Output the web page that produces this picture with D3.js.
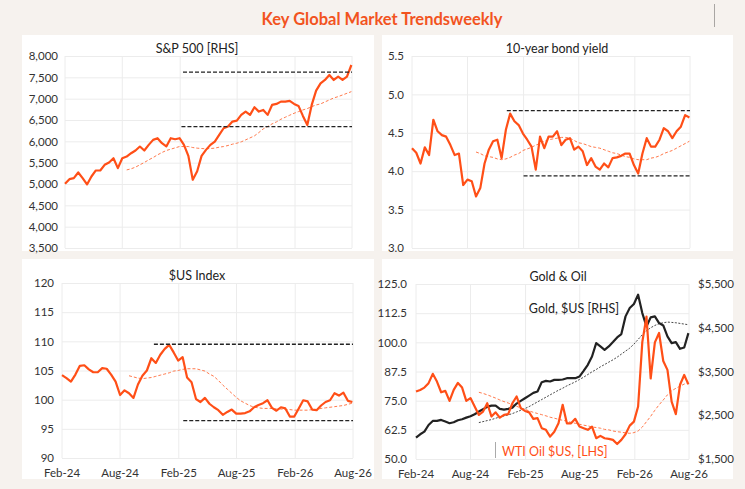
<!DOCTYPE html>
<html>
<head>
<meta charset="utf-8">
<script src="https://cdn.jsdelivr.net/npm/d3@7"></script>
<style>
  body { margin: 0; background: #f6f2ee; }
  text { font-family: Lato, "DejaVu Sans", sans-serif; }
</style>
</head>
<body>
<svg id="chart" width="745" height="489"></svg>
<script>
// biweekly observations, Feb-24 .. Aug-26
const dates = d3.range(66).map(i => d3.timeDay.offset(new Date(2024, 1, 1), 14 * i));

const tickDates = [new Date(2024, 1, 1), new Date(2024, 7, 1), new Date(2025, 1, 1),
                   new Date(2025, 7, 1), new Date(2026, 1, 1), new Date(2026, 7, 1)];
const tickLabels = ["Feb-24", "Aug-24", "Feb-25", "Aug-25", "Feb-26", "Aug-26"];

const spx = [5005, 5114, 5137, 5270, 5137, 4990, 5176, 5317, 5317, 5449, 5504, 5605, 5371, 5605, 5644, 5722,
  5785, 5878, 5785, 5917, 6034, 6073, 5956, 5880, 6073, 6050, 6073, 5917, 5660, 5100, 5300, 5660,
  5800, 5917, 5995, 6151, 6307, 6346, 6463, 6487, 6620, 6697, 6620, 6799, 6697, 6736, 6620, 6853,
  6877, 6931, 6931, 6947, 6877, 6830, 6596, 6385, 6853, 7189, 7360, 7438, 7555, 7438, 7516, 7438,
  7516, 7789];
const spxMa = [null, null, null, null, null, null, null, null, null, null, null, null, null, null, 5330, 5356,
  5395, 5450, 5504, 5566, 5620, 5683, 5738, 5785, 5816, 5847, 5878, 5878, 5878, 5855, 5840, 5832,
  5824, 5832, 5840, 5863, 5878, 5902, 5933, 5956, 5988, 6034, 6081, 6128, 6206, 6292, 6346, 6409,
  6456, 6518, 6565, 6612, 6658, 6697, 6736, 6768, 6814, 6853, 6877, 6924, 6970, 7017, 7048, 7087,
  7126, 7165];
const spxLevels = [7620, 6345];
const spxLevelStarts = [new Date(2025, 1, 10), new Date(2025, 1, 5)];

const bond = [4.30, 4.24, 4.10, 4.31, 4.21, 4.67, 4.52, 4.47, 4.45, 4.34, 4.21, 4.23, 3.82, 3.89, 3.87, 3.67,
  3.78, 4.10, 4.28, 4.39, 4.41, 4.17, 4.54, 4.75, 4.65, 4.60, 4.49, 4.41, 4.32, 4.02, 4.45, 4.30,
  4.45, 4.45, 4.52, 4.34, 4.41, 4.43, 4.28, 4.32, 4.26, 4.08, 4.17, 4.06, 4.02, 4.10, 4.05, 4.17,
  4.18, 4.20, 4.23, 4.23, 4.08, 3.97, 4.23, 4.43, 4.32, 4.32, 4.41, 4.56, 4.52, 4.43, 4.52, 4.58,
  4.73, 4.70];
const bondMa = [null, null, null, null, null, null, null, null, null, null, null, null, null, null, null, 4.25,
  4.23, 4.20, 4.19, 4.18, 4.16, 4.15, 4.16, 4.18, 4.21, 4.23, 4.27, 4.29, 4.31, 4.34, 4.36, 4.39,
  4.41, 4.42, 4.43, 4.44, 4.44, 4.43, 4.40, 4.37, 4.36, 4.34, 4.32, 4.31, 4.30, 4.28, 4.26, 4.24,
  4.23, 4.21, 4.19, 4.18, 4.16, 4.15, 4.15, 4.15, 4.17, 4.18, 4.20, 4.23, 4.25, 4.27, 4.30, 4.33,
  4.36, 4.39];
const bondLevels = [4.79, 3.94];
const bondLevelStarts = [new Date(2024, 11, 8), new Date(2025, 1, 1)];

const usd = [104.2, 103.7, 103.1, 104.3, 105.8, 105.9, 105.2, 104.7, 104.7, 105.4, 105.3, 104.3, 103.1, 100.8, 101.6, 101.1,
  100.3, 102.6, 104.1, 105.0, 107.1, 106.3, 107.7, 108.7, 109.4, 108.1, 106.7, 107.3, 103.8, 103.0, 100.1, 99.6,
  100.3, 99.3, 98.7, 98.2, 97.4, 97.9, 98.3, 97.6, 97.6, 97.7, 98.0, 98.7, 99.1, 99.4, 99.9, 98.6,
  98.1, 98.7, 98.5, 97.1, 97.1, 98.5, 99.9, 99.7, 98.3, 98.2, 99.0, 99.6, 99.9, 101.1, 100.7, 101.2,
  99.8, 99.6];
const usdMa = [null, null, null, null, null, null, null, null, null, null, null, null, null, null, null, 104.1,
  103.9, 103.7, 103.6, 103.7, 103.8, 104.0, 104.2, 104.4, 104.6, 104.9, 105.0, 105.2, 105.3, 105.3, 105.3, 105.1,
  104.9, 104.4, 104.0, 103.3, 102.5, 101.8, 101.1, 100.4, 99.8, 99.4, 99.0, 98.7, 98.6, 98.5, 98.5, 98.5,
  98.4, 98.4, 98.3, 98.3, 98.2, 98.2, 98.2, 98.2, 98.3, 98.3, 98.5, 98.6, 98.7, 98.8, 98.9, 99.0,
  99.2, 99.4];
const usdLevels = [109.5, 96.4];
const usdLevelStarts = [new Date(2024, 10, 15), new Date(2025, 1, 15)];

const oil = [78.9, 79.6, 80.6, 82.5, 86.5, 83.2, 78.6, 79.2, 74.9, 79.6, 82.6, 80.6, 74.9, 76.1, 72.5, 68.9,
  70.3, 73.9, 68.2, 70.0, 67.7, 68.9, 69.2, 73.9, 76.8, 71.8, 70.6, 70.0, 67.2, 67.5, 63.2, 62.5,
  59.6, 61.7, 65.3, 73.2, 65.3, 65.3, 67.2, 63.9, 63.2, 62.5, 63.9, 58.9, 59.9, 58.9, 58.6, 58.2,
  56.4, 58.2, 60.6, 64.3, 66.0, 72.5, 100.1, 111.0, 84.5, 100.0, 104.0, 92.0, 88.2, 74.6, 69.2, 81.8,
  86.0, 82.0];
const oilMa = [null, null, null, null, null, null, null, null, null, null, null, null, null, null, null, 78.6,
  78.1, 77.5, 76.8, 76.1, 75.3, 74.6, 74.0, 73.3, 72.6, 71.9, 71.3, 70.6, 70.0, 69.5, 69.0, 68.5,
  67.9, 67.5, 67.0, 66.6, 66.2, 65.7, 65.3, 64.9, 64.5, 64.2, 63.7, 63.5, 63.2, 62.7, 62.5, 62.0,
  61.7, 61.5, 61.2, 61.0, 61.3, 62.0, 63.7, 66.0, 68.3, 70.9, 73.2, 75.3, 77.5, 79.2, 80.3, 81.2,
  82.1, 82.9];

const gold = [1988, 2065, 2126, 2278, 2370, 2370, 2393, 2355, 2317, 2340, 2385, 2408, 2446, 2477, 2523, 2584,
  2637, 2691, 2721, 2721, 2645, 2630, 2645, 2675, 2767, 2828, 2889, 2950, 3011, 3042, 3256, 3286,
  3271, 3309, 3309, 3317, 3347, 3347, 3347, 3385, 3515, 3653, 3843, 4149, 4072, 3996, 4072, 4172,
  4279, 4355, 4760, 4950, 5042, 5256, 4836, 4530, 4737, 4760, 4607, 4553, 4301, 4149, 4172, 4019,
  4050, 4378];
const goldMa = [null, null, null, null, null, null, null, null, null, null, null, null, null, null, null, 2332,
  2355, 2378, 2401, 2431, 2462, 2485, 2508, 2538, 2576, 2614, 2653, 2698, 2752, 2805, 2859, 2912,
  2966, 3019, 3072, 3118, 3172, 3217, 3263, 3317, 3370, 3431, 3492, 3546, 3607, 3660, 3714, 3767,
  3828, 3897, 3966, 4034, 4126, 4233, 4340, 4431, 4500, 4553, 4592, 4614, 4630, 4622, 4614, 4599,
  4584, 4569];

const ORANGE = "#ff4f17";
const svg = d3.select("#chart");

svg.append("rect").attr("width", 745).attr("height", 489).attr("fill", "#f6f2ee");

svg.append("text")
  .attr("x", 382).attr("y", 25)
  .attr("text-anchor", "middle")
  .attr("font-size", 16.5).attr("font-weight", 700)
  .attr("fill", "#f2541f")
  .text("Key Global Market Trendsweekly");

svg.append("line")
  .attr("x1", 714.5).attr("x2", 714.5).attr("y1", 4).attr("y2", 27)
  .attr("stroke", "#a9a6a3").attr("stroke-width", 1);

const xEnd = new Date(2026, 7, 1);

function drawPanel(p) {
  const g = svg.append("g");
  g.append("rect")
    .attr("x", p.box[0]).attr("y", p.box[1])
    .attr("width", p.box[2] - p.box[0]).attr("height", p.box[3] - p.box[1])
    .attr("fill", "#fff");

  const x = d3.scaleTime().domain([tickDates[0], xEnd]).range([p.l, p.r]);
  const y = d3.scaleLinear().domain(p.yDomain).range([p.b, p.t]);

  // horizontal grid + left labels
  const yAxis = g.append("g")
    .attr("transform", `translate(${p.l},0)`)
    .call(d3.axisLeft(y).tickValues(p.yTicks).tickFormat(d3.format(p.yFormat))
      .tickSize(-(p.r - p.l)).tickPadding(p.l - p.labelRight));
  yAxis.select(".domain").remove();
  yAxis.selectAll("line").attr("stroke", "#ececec");
  yAxis.selectAll("text").attr("font-size", 11.5).attr("fill", "#333")
    .style("font-family", "Lato, sans-serif");

  // vertical grid
  g.append("g").selectAll("line")
    .data(tickDates)
    .join("line")
    .attr("x1", d => x(d)).attr("x2", d => x(d))
    .attr("y1", p.t).attr("y2", p.b)
    .attr("stroke", "#ececec");

  if (p.xLabels) {
    g.append("g").selectAll("text")
      .data(tickDates)
      .join("text")
      .attr("x", d => x(d)).attr("y", p.b + 19)
      .attr("text-anchor", "middle")
      .attr("font-size", 11.5).attr("fill", "#333")
      .text((d, i) => tickLabels[i]);
  }

  g.append("text")
    .attr("x", p.titleX).attr("y", p.t - 3)
    .attr("text-anchor", "middle")
    .attr("font-size", 12.5).attr("fill", "#222")
    .text(p.title);

  return {g, x, y};
}

function addLine(g, x, y, values, stroke, width, dash) {
  const line = d3.line()
    .defined(d => d[1] != null)
    .x(d => x(d[0]))
    .y(d => y(d[1]));
  g.append("path")
    .datum(dates.map((d, i) => [d, values[i]]))
    .attr("fill", "none")
    .attr("stroke", stroke)
    .attr("stroke-width", width)
    .attr("stroke-linejoin", "round")
    .attr("stroke-dasharray", dash || null)
    .attr("d", line);
}

function addLevels(g, x, y, levels, starts) {
  g.append("g").selectAll("line")
    .data(levels)
    .join("line")
    .attr("x1", (d, i) => x(starts[i])).attr("x2", x(xEnd))
    .attr("y1", d => y(d)).attr("y2", d => y(d))
    .attr("stroke", "#222").attr("stroke-width", 1.3)
    .attr("stroke-dasharray", "4,2");
}

// S&P 500
{
  const {g, x, y} = drawPanel({
    title: "S&P 500 [RHS]", titleX: 197, box: [22, 35, 374, 251],
    l: 65, r: 352, t: 56, b: 248, labelRight: 58,
    yDomain: [3500, 8000], yTicks: d3.range(3500, 8001, 500), yFormat: ",", xLabels: false
  });
  addLine(g, x, y, spxMa, "#ff7a4d", 1, "3,2");
  addLine(g, x, y, spx, ORANGE, 2.2);
  addLevels(g, x, y, spxLevels, spxLevelStarts);
}

// 10-year bond yield
{
  const {g, x, y} = drawPanel({
    title: "10-year bond yield", titleX: 557, box: [382, 35, 733, 251],
    l: 412, r: 690, t: 56, b: 248, labelRight: 404,
    yDomain: [3, 5.5], yTicks: d3.range(0, 6).map(i => 3 + i * 0.5), yFormat: ".1f", xLabels: false
  });
  addLine(g, x, y, bondMa, "#ff7a4d", 1, "3,2");
  addLine(g, x, y, bond, ORANGE, 2.2);
  addLevels(g, x, y, bondLevels, bondLevelStarts);
}

// $US Index
{
  const {g, x, y} = drawPanel({
    title: "$US Index", titleX: 197, box: [22, 259, 374, 479],
    l: 62, r: 353, t: 283, b: 458, labelRight: 54,
    yDomain: [90, 120], yTicks: d3.range(90, 121, 5), yFormat: "d", xLabels: true
  });
  addLine(g, x, y, usdMa, "#ff7a4d", 1, "3,2");
  addLine(g, x, y, usd, ORANGE, 2.2);
  addLevels(g, x, y, usdLevels, usdLevelStarts);
}

// Gold & Oil
{
  const {g, x, y} = drawPanel({
    title: "Gold & Oil", titleX: 558, box: [382, 259, 733, 479],
    l: 416, r: 689, t: 284, b: 459, labelRight: 407,
    yDomain: [50, 125], yTicks: d3.range(0, 7).map(i => 50 + i * 12.5), yFormat: ".1f", xLabels: true
  });
  const yR = d3.scaleLinear().domain([1500, 5500]).range([459, 284]);
  const rAxis = g.append("g")
    .attr("transform", "translate(689,0)")
    .call(d3.axisRight(yR).tickValues(d3.range(1500, 5501, 1000))
      .tickFormat(d => "$" + d3.format(",")(d)).tickSize(0).tickPadding(9));
  rAxis.select(".domain").remove();
  rAxis.selectAll("text").attr("font-size", 11.5).attr("fill", "#333")
    .style("font-family", "Lato, sans-serif");

  addLine(g, x, yR, goldMa, "#333", 0.9, "2,1.5");
  addLine(g, x, y, oilMa, "#ff7a4d", 1, "3,2");
  addLine(g, x, yR, gold, "#222", 2.2);
  addLine(g, x, y, oil, ORANGE, 2.2);

  g.append("text")
    .attr("x", 574).attr("y", 313)
    .attr("text-anchor", "middle")
    .attr("font-size", 12.5).attr("fill", "#222")
    .text("Gold, $US [RHS]");
  g.append("line")
    .attr("x1", 495.5).attr("x2", 495.5).attr("y1", 442).attr("y2", 458)
    .attr("stroke", "#aaa");
  g.append("text")
    .attr("x", 502).attr("y", 456)
    .attr("font-size", 12.5).attr("fill", ORANGE)
    .text("WTI Oil $US, [LHS]");
}
</script>
</body>
</html>
